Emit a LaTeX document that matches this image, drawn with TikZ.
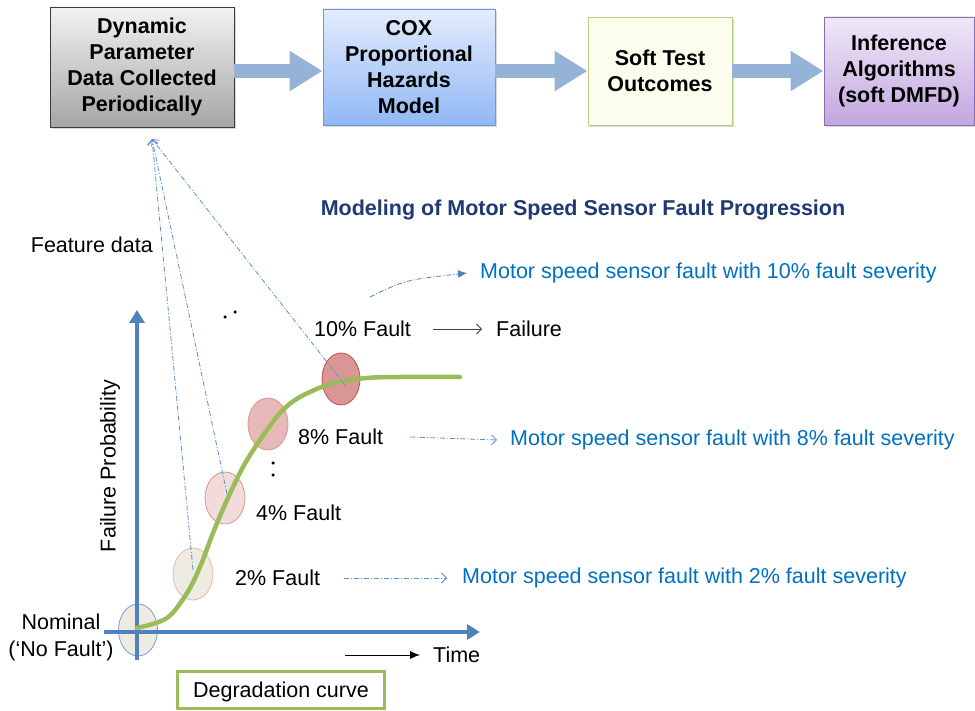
\documentclass[tikz,border=0pt]{standalone}
\usepackage{fontspec}
\setmainfont{Liberation Sans}
\usetikzlibrary{arrows.meta,shadows,shapes.geometric}
\definecolor{axisblue}{HTML}{4F81BD}
\definecolor{curvegreen}{HTML}{9BBB59}
\definecolor{bluetext}{HTML}{0070C0}
\definecolor{navy}{HTML}{1F3A73}
\definecolor{dashblue}{HTML}{5B8FD0}
\definecolor{arrowblue}{HTML}{95B3D7}
\definecolor{grayTop}{HTML}{F2F2F2}
\definecolor{grayBot}{HTML}{A5A5A5}
\definecolor{grayBorder}{HTML}{3C3C3C}
\definecolor{blueTop}{HTML}{E3ECFD}
\definecolor{blueBot}{HTML}{90B8F5}
\definecolor{blueBorder}{HTML}{6A9AD8}
\definecolor{yellowFill}{HTML}{FDFDEE}
\definecolor{greenBorder}{HTML}{B5CF88}
\definecolor{purpTop}{HTML}{EFE9F7}
\definecolor{purpBot}{HTML}{C3A6E0}
\definecolor{purpBorder}{HTML}{8A6CB0}
\definecolor{beige}{HTML}{EEECE1}
\definecolor{pinkA}{HTML}{E6B9B8}
\definecolor{pinkB}{HTML}{F2DCDB}
\definecolor{pinkC}{HTML}{D99694}
\definecolor{redB}{HTML}{C0504D}
\definecolor{nomBorder}{HTML}{6F9FD8}
\begin{document}
\begin{tikzpicture}[x=1pt,y=-1pt,
  txt/.style={font=\fontsize{21.5}{25}\selectfont, inner sep=0pt},
  btxt/.style={txt, text=bluetext},
  procbox/.style={draw, line width=0.9pt, align=center, inner sep=2pt,
    font=\fontsize{21.5}{26}\selectfont\bfseries,
    drop shadow={shadow xshift=2pt, shadow yshift=-2pt, opacity=0.3}},
  blockarrow/.style={draw=arrowblue, line width=14pt, -{Triangle[length=33pt,width=38pt]}},
  dashdot/.style={draw=dashblue, line width=0.8pt, dash pattern=on 5pt off 2pt on 1pt off 2pt},
  openhead/.style={-{Straight Barb[length=5pt,width=10pt]}},
  faultell/.style={ellipse, minimum width=40pt, minimum height=52pt, inner sep=0pt, line width=0.8pt},
  axisline/.style={draw=axisblue, line width=4pt, -{Triangle[length=13pt,width=15pt]}},
  dotmark/.style={circle, fill=black, inner sep=0pt, minimum size=3.5pt}
]
\useasboundingbox (0,0) rectangle (975,711);

% process boxes
\node[procbox, draw=grayBorder, top color=grayTop, bottom color=grayBot,
  minimum width=184pt, minimum height=120pt] (b1) at (142,67)
  {\rule{0pt}{3pt}Dynamic\\Parameter\\Data Collected\\Periodically};
\node[procbox, draw=blueBorder, top color=blueTop, bottom color=blueBot,
  minimum width=172pt, minimum height=116pt] (b2) at (409,67)
  {\rule{0pt}{3pt}COX\\Proportional\\Hazards\\Model};
\node[procbox, draw=greenBorder, fill=yellowFill,
  minimum width=144pt, minimum height=108pt] (b3) at (660,71)
  {Soft Test\\Outcomes};
\node[procbox, draw=purpBorder, top color=purpTop, bottom color=purpBot,
  minimum width=150pt, minimum height=108pt] (b4) at (899,71)
  {Inference\\Algorithms\\(soft DMFD)};

\draw[blockarrow] (b1.east |- b3.west) -- (b2.west |- b3.west);
\draw[blockarrow] (b2.east |- b3.west) -- (b3.west);
\draw[blockarrow] (b3.east) -- (b4.west);

% title and labels
\node[txt, font=\fontsize{21.5}{25}\selectfont\bfseries, text=navy] (title) at (583,210)
  {Modeling of Motor Speed Sensor Fault Progression};
\node[txt, anchor=east] (feat) at (153,245) {Feature data};
\coordinate (fd) at (152,139);

% ellipses
\node[faultell, draw=nomBorder, fill=beige, minimum width=39pt] (e0) at (138,630) {};
\node[faultell, draw=pinkA, fill=beige] (e2) at (193,574) {};
\node[faultell, draw=pinkC, fill=pinkB] (e4) at (225,498) {};
\node[faultell, draw=pinkC, fill=pinkA] (e8) at (268,424) {};
\node[faultell, draw=redB, fill=pinkC, minimum width=38pt] (e10) at (341,379) {};

% axes
\coordinate (ybot) at (137,660);
\coordinate (ytop) at (137,310);
\coordinate (xleft) at (104,632);
\coordinate (xright) at (480,632);
\draw[axisline] (ybot) -- (ytop);
\draw[axisline] (xleft) -- (xright);
\node[txt, rotate=90] (fp) at (110,466) {Failure Probability};

% degradation curve
\draw[curvegreen, line width=4.5pt, line cap=round] plot[smooth, tension=0.55] coordinates
  {(137,628) (167,618) (187,593) (200,567) (213,533) (227,500) (243,467) (260,440)
   (280,413) (300,397) (333,383) (367,378) (400,377) (460,377)};

% feature data lines
\draw[dashdot, openhead] (e2.center) ++(0,-4) -- (fd);
\draw[dashdot, openhead] (227,494) -- (fd);
\draw[dashdot, openhead] (345,385) -- (fd);

% dots
\node[dotmark] (d1) at (225,317) {};
\node[dotmark] (d2) at (235,312) {};
\node[dotmark] (d3) at (273,463) {};
\node[dotmark] (d4) at (273,475) {};

% fault labels
\node[txt, anchor=west] (f10) at (314,329) {10\% Fault};
\node[txt, anchor=west] (fail) at (496,329) {Failure};
\node[txt, anchor=west] (f8) at (298,437) {8\% Fault};
\node[txt, anchor=west] (f4) at (256,513) {4\% Fault};
\node[txt, anchor=west] (f2) at (235,578) {2\% Fault};
\draw[draw=black!75, line width=0.8pt, openhead] ([xshift=22pt]f10.east) -- ([xshift=-14pt]fail.west);

% blue descriptions
\node[btxt, anchor=west] (bt10) at (480,273) {Motor speed sensor fault with 10\% fault severity};
\node[btxt, anchor=west] (bt8) at (510,440) {Motor speed sensor fault with 8\% fault severity};
\node[btxt, anchor=west] (bt2) at (462,578) {Motor speed sensor fault with 2\% fault severity};
\coordinate (s10) at (370,297);
\draw[dashdot, draw=axisblue, -{Latex[length=9pt,width=8pt]}] (s10) .. controls (405,280) .. ([xshift=-13pt]bt10.west);
\draw[dashdot, openhead] ([xshift=27pt]f8.east) -- ([xshift=-13pt]bt8.west);
\draw[dashdot, openhead] ([xshift=24pt]f2.east) -- ([xshift=-15pt]bt2.west);

% nominal and time
\node[txt, align=center, font=\fontsize{21.5}{27}\selectfont] (nom) at (61,637) {Nominal\\(‘No Fault’)};
\node[txt, anchor=west] (time) at (433,655) {Time};
\draw[black, line width=0.9pt, -{Latex[length=10pt,width=8pt]}] ([xshift=-88pt]time.west) -- ([xshift=-13pt]time.west);

% degradation curve box
\node[draw=curvegreen, line width=3pt, fill=white, minimum width=207pt, minimum height=37pt, inner sep=0pt] (deg) at (281,690) {};
\node[txt] (degtxt) at (deg.center) [yshift=-2pt] {Degradation curve};
\end{tikzpicture}
\end{document}
